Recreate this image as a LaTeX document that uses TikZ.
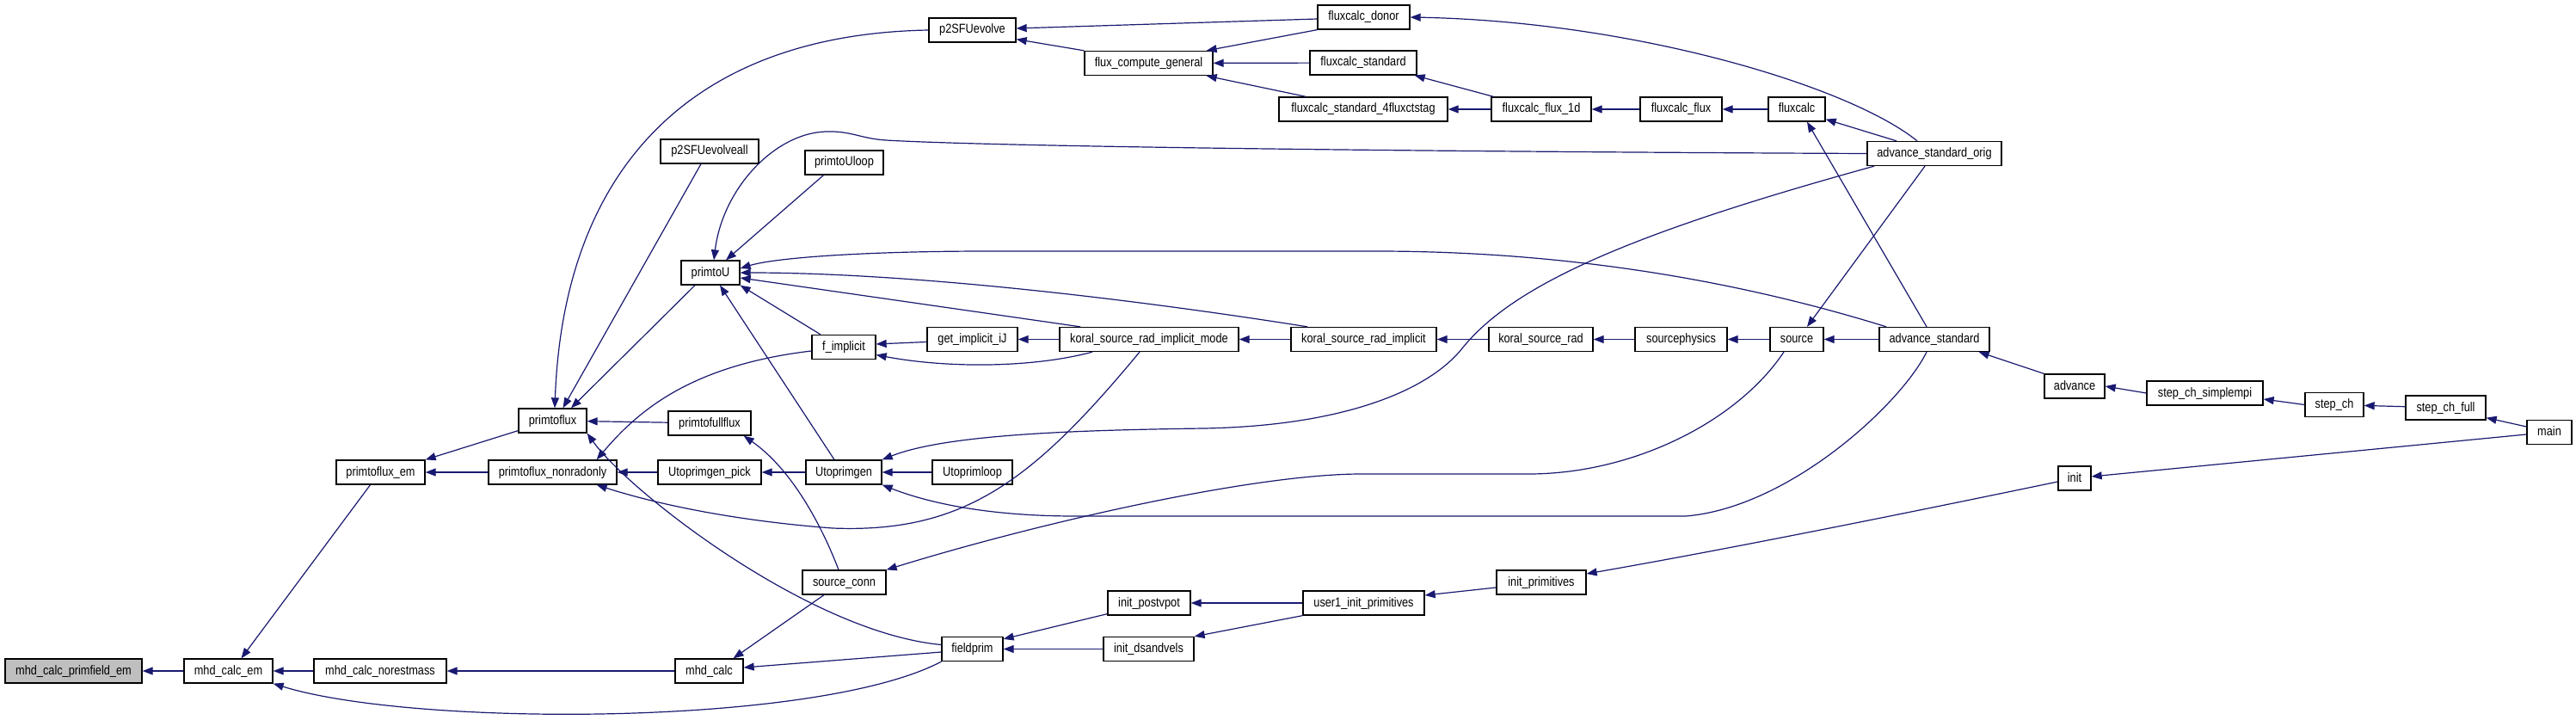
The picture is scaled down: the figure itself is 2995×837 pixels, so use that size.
\documentclass[tikz,border=0pt]{standalone}
\usepackage{fontspec}
\newfontfamily\dxfont{Liberation Sans}[FakeStretch=0.85]
\usetikzlibrary{arrows.meta}
\definecolor{edgec}{HTML}{191970}
\begin{document}
\begin{tikzpicture}[x=1pt,y=-1pt,
  box/.style={draw=black, fill=white, line width=1.3pt, inner sep=0pt, minimum height=28pt,
    font={\dxfont\fontsize{15pt}{17pt}\selectfont}, text height=11pt, text depth=3pt},
  rootbox/.style={box, fill=black!25},
  e/.style={draw=edgec, line width=1.2pt, -{Triangle[length=12pt,width=9pt]}}]
\fill[white] (0,0) rectangle (2995,837);
\useasboundingbox (0,0) rectangle (2995,837);
% nodes
\node[rootbox,minimum width=159pt] (mcpe) at (85.5,780) {mhd\_calc\_primfield\_em};
\node[box,minimum width=103pt] (mce) at (265.5,780) {mhd\_calc\_em};
\node[box,minimum width=154pt] (mcn) at (442,780) {mhd\_calc\_norestmass};
\node[box,minimum width=103pt] (pfem) at (442.5,549) {primtoflux\_em};
\node[box,minimum width=79pt] (pf) at (642.5,489) {primtoflux};
\node[box,minimum width=149pt] (pfnr) at (642.5,549) {primtoflux\_nonradonly};
\node[box,minimum width=101pt] (p2e) at (1130.5,35) {p2SFUevolve};
\node[box,minimum width=149pt] (fcg) at (1335.5,73.5) {flux\_compute\_general};
\node[box,minimum width=114pt] (p2ea) at (825,176) {p2SFUevolveall};
\node[box,minimum width=91pt] (pUl) at (981.5,189) {primtoUloop};
\node[box,minimum width=68pt] (pU) at (826,317) {primtoU};
\node[box,minimum width=74pt] (fimp) at (981,403.5) {f\_implicit};
\node[box,minimum width=105pt] (gij) at (1130.5,394.5) {get\_implicit\_iJ};
\node[box,minimum width=208pt] (ksrim) at (1336,394.5) {koral\_source\_rad\_implicit\_mode};
\node[box,minimum width=96pt] (pff) at (825,492) {primtofullflux};
\node[box,minimum width=120pt] (ugp) at (825,549) {Utoprimgen\_pick};
\node[box,minimum width=88pt] (ug) at (981,549) {Utoprimgen};
\node[box,minimum width=93pt] (ul) at (1130.5,549) {Utoprimloop};
\node[box,minimum width=97pt] (sc) at (981.5,677) {source\_conn};
\node[box,minimum width=96pt] (ipv) at (1336,701) {init\_postvpot};
\node[box,minimum width=105pt] (ids) at (1335.5,754.5) {init\_dsandvels};
\node[box,minimum width=71pt] (fp) at (1130.5,754.5) {fieldprim};
\node[box,minimum width=79pt] (mc) at (824.5,780) {mhd\_calc};
\node[box,minimum width=107pt] (fcd) at (1585.5,20) {fluxcalc\_donor};
\node[box,minimum width=124pt] (fcs) at (1585,73) {fluxcalc\_standard};
\node[box,minimum width=196pt] (fcs4) at (1585,127) {fluxcalc\_standard\_4fluxctstag};
\node[box,minimum width=116pt] (fcf1) at (1792,127) {fluxcalc\_flux\_1d};
\node[box,minimum width=95pt] (fcf) at (1954.5,127) {fluxcalc\_flux};
\node[box,minimum width=66pt] (fc) at (2089,127) {fluxcalc};
\node[box,minimum width=156pt] (aso) at (2249,178.5) {advance\_standard\_orig};
\node[box,minimum width=169pt] (ksri) at (1585.5,394.5) {koral\_source\_rad\_implicit};
\node[box,minimum width=121pt] (ksr) at (1791.5,394.5) {koral\_source\_rad};
\node[box,minimum width=107pt] (sp) at (1954.5,394.5) {sourcephysics};
\node[box,minimum width=62pt] (src) at (2089,394.5) {source};
\node[box,minimum width=128pt] (ast) at (2249,394.5) {advance\_standard};
\node[box,minimum width=104pt] (ip) at (1792,677) {init\_primitives};
\node[box,minimum width=141pt] (uip) at (1585.5,701) {user1\_init\_primitives};
\node[box,minimum width=70pt] (adv) at (2412,449) {advance};
\node[box,minimum width=135pt] (scs) at (2563.5,457) {step\_ch\_simplempi};
\node[box,minimum width=68pt] (sch) at (2714,470.5) {step\_ch};
\node[box,minimum width=93pt] (schf) at (2843.5,474) {step\_ch\_full};
\node[box,minimum width=52pt] (main) at (2964,502.5) {main};
\node[box,minimum width=38pt] (init) at (2412,556) {init};
% edges
\draw[e] (mce) -- (mcpe);
\draw[e] ([xshift=-12pt]pfem.south) -- ([xshift=15pt]mce.north);
\draw[e] (mcn) -- (mce);
\draw[e] (fp.south west) .. controls (950,845) and (480,845) .. (mce.south east);
\draw[e] (mc) -- (mcn);
\draw[e] ([yshift=3pt]pf.south west) -- (pfem.north east);
\draw[e] (pfnr) -- (pfem);
\draw[e] (p2e.west) .. controls (800,40) and (655,200) .. ([xshift=2.5pt]pf.north);
\draw[e] ([xshift=-10pt]p2ea.south) -- ([xshift=12pt]pf.north);
\draw[e] ([xshift=-18pt]pU.south) -- ([xshift=21.5pt]pf.north);
\draw[e] (pff) -- (pf);
\draw[e] ([yshift=5pt]fp.west) .. controls (940,735) and (730,570) .. (pf.south east);
\draw[e] ([yshift=-4.5pt]fimp.west) .. controls (800,425) and (740,480) .. ([xshift=-24pt]pfnr.north east);
\draw[e] (ugp) -- (pfnr);
\draw[e] (ug) -- (ugp);
\draw[e] (ul) -- (ug);
\draw[e] ([xshift=-11pt]ksrim.south) .. controls (1200,560) and (1120,620) .. (968,614) .. controls (850,605) and (760,585) .. ([xshift=-24pt]pfnr.south east);
\draw[e] (fcg.north west) -- ([yshift=4pt]p2e.south east);
\draw[e] ([yshift=-2pt]fcd.west) -- ([yshift=2pt]p2e.east);
\draw[e] (fcd.south west) -- ([xshift=-8pt]fcg.north east);
\draw[e] (fcs) -- (fcg);
\draw[e] ([xshift=32pt]fcs4.north west) -- ([xshift=-8pt]fcg.south east);
\draw[e] ([xshift=-20pt]aso.north) .. controls (2150,100) and (1900,25) .. (fcd.east);
\draw[e] ([xshift=3pt]fcf1.north west) -- ([xshift=-3pt]fcs.south east);
\draw[e] (fcf1) -- (fcs4);
\draw[e] (fcf) -- (fcf1);
\draw[e] (fc) -- (fcf);
\draw[e] ([xshift=-44pt]aso.north) -- ([yshift=3pt]fc.south east);
\draw[e] ([xshift=-9pt]ast.north) -- ([xshift=12pt]fc.south);
\draw[e] ([xshift=-11pt]aso.south) -- ([xshift=12pt]src.north);
\draw[e] ([xshift=-70pt]aso.south) .. controls (1900,270) and (1760,330) .. (1700,405) .. controls (1660,455) and (1560,495) .. (1400,498) .. controls (1250,500) and (1100,505) .. (ug.north east);
\draw[e] (aso.west) .. controls (1600,176) and (1150,170) .. (1030,163) .. controls (1000,161) and (990,152) .. (960,153) .. controls (900,155) and (840,220) .. ([xshift=4pt]pU.north);
\draw[e] ([xshift=-24pt]pUl.south) -- ([xshift=18pt]pU.north);
\draw[e] ([xshift=-56pt]ast.north) .. controls (2000,320) and (1800,292) .. (1600,292) -- (1150,292) .. controls (1000,292) and (900,300) .. ([yshift=5pt]pU.east);
\draw[e] ([xshift=-65.5pt]ksri.north) .. controls (1300,345) and (1050,317) .. (pU.east);
\draw[e] ([xshift=-80pt]ksrim.north) -- ([yshift=-6pt]pU.east);
\draw[e] ([xshift=-27pt]fimp.north) -- (pU.south east);
\draw[e] ([xshift=-11pt]ug.north) -- ([xshift=11pt]pU.south);
\draw[e] ([yshift=-3pt]gij.west) -- ([yshift=3.5pt]fimp.east);
\draw[e] (ksrim) -- (gij);
\draw[e] ([xshift=-66pt]ksrim.south) .. controls (1200,428) and (1100,428) .. ([yshift=-9pt]fimp.east);
\draw[e] (ksri) -- (ksrim);
\draw[e] (ksr) -- (ksri);
\draw[e] (sp) -- (ksr);
\draw[e] (src) -- (sp);
\draw[e] (ast) -- (src);
\draw[e] ([xshift=-9pt]ast.south) .. controls (2210,470) and (2080,590) .. (1960,600) -- (1250,600) .. controls (1150,600) and (1080,585) .. (ug.south east);
\draw[e] ([xshift=-15pt]src.south) .. controls (2020,490) and (1900,550) .. (1780,551) -- (1580,551) .. controls (1450,552) and (1200,610) .. (sc.north east);
\draw[e] ([xshift=-6.5pt]sc.north) .. controls (955,610) and (920,545) .. ([xshift=-9pt]pff.south east);
\draw[e] ([xshift=-23.5pt]sc.south) -- ([xshift=28pt]mc.north);
\draw[e] ([yshift=-3.5pt]fp.west) -- ([yshift=4pt]mc.east);
\draw[e] ([yshift=2pt]ipv.south west) -- ([yshift=-3pt]fp.north east);
\draw[e] (ids) -- (fp);
\draw[e] (uip) -- (ipv);
\draw[e] (uip.south west) -- (ids.north east);
\draw[e] ([yshift=-6pt]ip.west) -- ([yshift=9pt]uip.east);
\draw[e] ([yshift=-4pt]init.west) .. controls (2200,600) and (2000,640) .. ([yshift=10pt]ip.east);
\draw[e] ([yshift=-2.5pt]main.west) -- ([yshift=2pt]init.east);
\draw[e] ([yshift=6.5pt]main.west) -- ([yshift=3pt]schf.south east);
\draw[e] (schf) -- (sch);
\draw[e] (sch.west) -- ([yshift=-7pt]scs.east);
\draw[e] (scs.west) -- (adv.east);
\draw[e] (adv.north west) -- ([xshift=-13pt]ast.south east);
\end{tikzpicture}
\end{document}
